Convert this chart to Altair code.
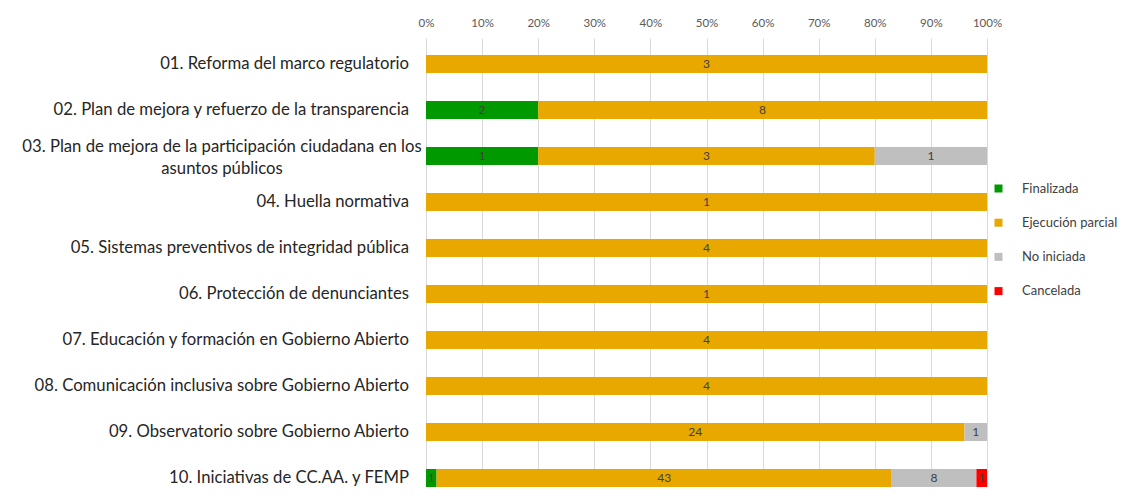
import altair as alt
import pandas as pd

categories = [
    "01. Reforma del marco regulatorio",
    "02. Plan de mejora y refuerzo de la transparencia",
    "03. Plan de mejora de la participación ciudadana en los asuntos públicos",
    "04. Huella normativa",
    "05. Sistemas preventivos de integridad pública",
    "06. Protección de denunciantes",
    "07. Educación y formación en Gobierno Abierto",
    "08. Comunicación inclusiva sobre Gobierno Abierto",
    "09. Observatorio sobre Gobierno Abierto",
    "10. Iniciativas de CC.AA. y FEMP",
]
wrapped_label = "03. Plan de mejora de la participación ciudadana en los\nasuntos públicos"

statuses = ["Finalizada", "Ejecución parcial", "No iniciada", "Cancelada"]
colors = ["#009900", "#E9A800", "#BFBFBF", "#FF0000"]

finalizada = [0, 2, 1, 0, 0, 0, 0, 0, 0, 1]
ejecucion = [3, 8, 3, 1, 4, 1, 4, 4, 24, 43]
no_iniciada = [0, 0, 1, 0, 0, 0, 0, 0, 1, 8]
cancelada = [0, 0, 0, 0, 0, 0, 0, 0, 0, 1]

x_ticks = [0, 0.1, 0.2, 0.3, 0.4, 0.5, 0.6, 0.7, 0.8, 0.9, 1.0]

series = [finalizada, ejecucion, no_iniciada, cancelada]
rows = []
for si, (st, vals) in enumerate(zip(statuses, series)):
    for cat, v in zip(categories, vals):
        if v > 0:
            rows.append({"cat": cat, "status": st, "order": si, "count": v})
df = pd.DataFrame(rows)

lab_df = pd.DataFrame({
    "cat": categories,
    "text": [wrapped_label if c.startswith("03.") else c for c in categories],
    "wrap": [c.startswith("03.") for c in categories],
})

FONT = "Lato"

yscale = alt.Scale(domain=categories, paddingInner=0.6087, paddingOuter=0.1848, align=1)
y_enc = alt.Y("cat:N", sort=categories, scale=yscale, axis=None)

bars = alt.Chart(df).mark_bar().encode(
    y=y_enc,
    x=alt.X(
        "count:Q",
        stack="normalize",
        scale=alt.Scale(domain=[0, 1]),
        axis=alt.Axis(
            orient="top", format=".0%", values=x_ticks, title=None,
            domain=False, ticks=False, labelPadding=10, labelFlush=False,
            labelFont=FONT, labelFontSize=11.5, labelColor="#595959",
            grid=True, gridColor="#D9D9D9", gridWidth=1,
        ),
    ),
    color=alt.Color(
        "status:N",
        scale=alt.Scale(domain=statuses, range=colors),
        legend=alt.Legend(
            title=None, orient="none", legendX=566, legendY=144,
            symbolType="square", symbolSize=64, symbolStrokeWidth=0,
            labelFont=FONT, labelFontSize=13, labelColor="#404040",
            labelOffset=17, rowPadding=20.2, padding=0, labelLimit=200,
        ),
    ),
    order=alt.Order("order:Q"),
)

values = alt.Chart(df).transform_joinaggregate(
    total="sum(count)", groupby=["cat"]
).transform_window(
    cum="sum(count)", sort=[alt.SortField("order")], groupby=["cat"], frame=[None, 0]
).transform_calculate(
    mid="(datum.cum - datum.count / 2) / datum.total"
).mark_text(font=FONT, fontSize=12, color="#404040", baseline="middle").encode(
    y=y_enc,
    x=alt.X("mid:Q"),
    text=alt.Text("count:Q"),
)

row_labels = alt.Chart(lab_df).transform_filter("!datum.wrap").mark_text(
    font=FONT, fontSize=16.7, color="#262626", align="right", baseline="middle"
).encode(y=y_enc, x=alt.value(-17), text="text:N")

row_labels_wrapped = alt.Chart(lab_df).transform_filter("datum.wrap").mark_text(
    font=FONT, fontSize=16.7, color="#262626", align="center", baseline="middle",
    lineBreak="\n", lineHeight=22, dy=-9,
).encode(y=y_enc, x=alt.value(-204), text="text:N")

chart = alt.layer(bars, values, row_labels, row_labels_wrapped).properties(
    width=561, height=449,
    autosize=alt.AutoSizeParams(type="none"),
    padding={"left": 418, "top": 30, "right": 130, "bottom": 0},
).configure_view(stroke=None)

chart.save("out.html", embed_options={"renderer": "svg", "actions": False})
